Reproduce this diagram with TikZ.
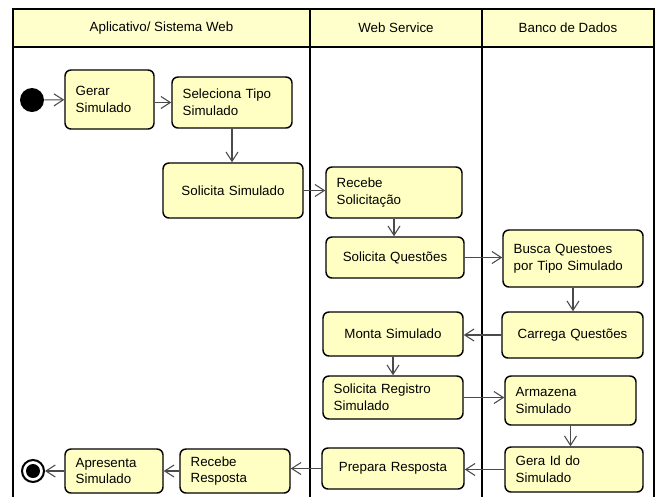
\documentclass[tikz,border=0pt]{standalone}
\usepackage{fontspec}
\setmainfont{Liberation Sans}
\usepackage{xcolor}
\usetikzlibrary{arrows.meta}
\definecolor{laneyellow}{HTML}{FFFFCC}
\definecolor{boxyellow}{HTML}{FFFFC4}
\definecolor{arrowgray}{HTML}{4A4A4A}
\tikzstyle{every node}=[font=\fontsize{10}{12.5}\selectfont]
\tikzstyle{block} = [rectangle, draw, line width=1.1pt, fill=boxyellow, rounded corners=4.5pt, inner xsep=8pt, inner ysep=0pt, align=left]
\tikzstyle{line} = [draw, arrowgray, line width=0.8pt, -{Straight Barb[length=7pt,width=9pt]}]
\tikzstyle{lane} = [draw, line width=1.1pt]

\begin{document}
\begin{tikzpicture}[x=0.75pt, y=-0.75pt]
    \useasboundingbox (0,0) rectangle (660,497);
    % Swimlanes
    \draw [lane, fill=laneyellow] (13,9) rectangle (654,47);
    \draw [lane] (13,9) -- (13,497);
    \draw [lane] (310,9) -- (310,497);
    \draw [lane] (482,9) -- (482,497);
    \draw [lane] (654,9) -- (654,497);
    \node (app) at (161.5,28) {Aplicativo/ Sistema Web};
    \node (ws) at (396,28) {Web Service};
    \node (db) at (568,28) {Banco de Dados};
    % Place nodes
    \node [circle, fill=black, minimum size=18pt, inner sep=0pt] (start) at (32,100) {};
    \node [block, text width=50.75pt, minimum height=44.25pt] (gerar) at (109.5,99.5) {Gerar\\Simulado};
    \node [block, text width=74pt, minimum height=38.25pt] (seleciona) at (232,102.5) {Seleciona Tipo\\Simulado};
    \node [block, text width=89pt, minimum height=41.25pt, align=center] (solicita) at (233,190.5) {Solicita Simulado};
    \node [block, text width=86pt, minimum height=38.25pt] (recebesol) at (394,192.5) {Recebe\\Solicitação};
    \node [block, text width=87.5pt, minimum height=30.75pt, align=center] (solquest) at (395,257.5) {Solicita Questões};
    \node [block, text width=89pt, minimum height=42.75pt] (busca) at (573,258.5) {Busca Questoes\\por Tipo Simulado};
    \node [block, text width=89.75pt, minimum height=34.5pt, align=center] (carrega) at (572.5,335) {Carrega Questões};
    \node [block, text width=89pt, minimum height=33pt, align=center] (monta) at (393,334) {Monta Simulado};
    \node [block, text width=89pt, minimum height=32.25pt] (solreg) at (393,397.5) {Solicita Registro\\Simulado};
    \node [block, text width=82.25pt, minimum height=36.75pt] (armazena) at (570.5,400.5) {Armazena\\Simulado};
    \node [block, text width=87.5pt, minimum height=33.75pt] (geraid) at (574,469.5) {Gera Id do\\Simulado};
    \node [block, text width=90.5pt, minimum height=30.75pt, align=center] (prepara) at (393,468.5) {Prepara Resposta};
    \node [block, text width=66.5pt, minimum height=33pt] (receberesp) at (235,471) {Recebe\\Resposta};
    \node [block, text width=57.5pt, minimum height=33pt] (apresenta) at (114,471) {Apresenta\\Simulado};
    \node [circle, draw, line width=1.5pt, minimum size=16.5pt, inner sep=0pt] (stop) at (33,471) {};
    \node [circle, fill=black, minimum size=10.5pt, inner sep=0pt] (stopdot) at (stop) {};
    % Draw edges
    \path [line] (start) -- (gerar);
    \path [line] (gerar.east |- seleciona) -- (seleciona);
    \path [line] (seleciona) -- (seleciona |- solicita.north);
    \path [line] (solicita) -- (solicita -| recebesol.west);
    \path [line] (recebesol) -- (recebesol |- solquest.north);
    \path [line] (solquest) -- (solquest -| busca.west);
    \path [line] (busca) -- (busca |- carrega.north);
    \path [line] (carrega) -- (carrega -| monta.east);
    \path [line] (monta) -- (monta |- solreg.north);
    \path [line] (solreg) -- (solreg -| armazena.west);
    \path [line] (armazena) -- (armazena |- geraid.north);
    \path [line] (geraid) -- (geraid -| prepara.east);
    \path [line] (prepara) -- (prepara -| receberesp.east);
    \path [line] (receberesp) -- (receberesp -| apresenta.east);
    \path [line] (apresenta) -- (apresenta -| stop.east);
\end{tikzpicture}
\end{document}
